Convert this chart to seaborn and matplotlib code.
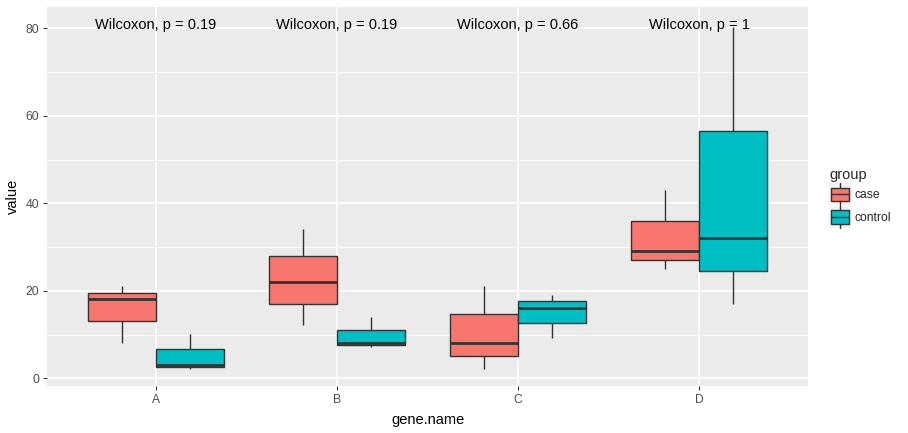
import pandas as pd
import matplotlib
matplotlib.use('Agg')
import matplotlib.pyplot as plt
import seaborn as sns
from matplotlib.legend_handler import HandlerBase
from matplotlib.patches import Rectangle
from matplotlib.lines import Line2D
from matplotlib.ticker import MultipleLocator

# five-number summaries (min, q1, median, q3, max)
genes = ['A', 'B', 'C', 'D']
groups = ['case', 'control']
case_values = {
    'A': [8.1, 13.0, 18.2, 19.4, 21.1],
    'B': [12.3, 16.9, 22.1, 27.9, 34.1],
    'C': [2.2, 5.0, 8.1, 14.6, 21.1],
    'D': [25.1, 27.0, 29.2, 35.9, 43.0],
}
control_values = {
    'A': [2.2, 2.5, 3.0, 6.6, 10.1],
    'B': [7.2, 7.6, 8.1, 11.0, 14.0],
    'C': [9.3, 12.6, 16.1, 17.6, 19.0],
    'D': [17.1, 24.5, 32.1, 56.5, 80.4],
}
p_labels = ['Wilcoxon, p = 0.19', 'Wilcoxon, p = 0.19', 'Wilcoxon, p = 0.66', 'Wilcoxon, p = 1']
label_y = 80.7

colors = {'case': '#F8766D', 'control': '#00BFC4'}


def build_frame():
    rows = []
    for g in genes:
        for v in case_values[g]:
            rows.append({'gene.name': g, 'group': 'case', 'value': v})
        for v in control_values[g]:
            rows.append({'gene.name': g, 'group': 'control', 'value': v})
    return pd.DataFrame(rows)


class BoxKey(HandlerBase):
    # ggplot style legend key: grey square with a tiny boxplot inside
    def create_artists(self, legend, orig_handle, xdescent, ydescent, width, height, fontsize, trans):
        fc = orig_handle.get_facecolor()
        bg = Rectangle((-xdescent, -ydescent), width, height, facecolor='#F2F2F2',
                       edgecolor='none', transform=trans)
        bx0 = -xdescent + width * 0.1
        bw = width * 0.8
        by0 = -ydescent + height * 0.2
        bh = height * 0.6
        box = Rectangle((bx0, by0), bw, bh, facecolor=fc, edgecolor='#333333',
                        linewidth=1.0, transform=trans)
        cx = -xdescent + width / 2
        cy = -ydescent + height / 2
        med = Line2D([bx0, bx0 + bw], [cy, cy], color='#333333', lw=1.0, transform=trans)
        w1 = Line2D([cx, cx], [-ydescent, by0], color='#333333', lw=1.0, transform=trans)
        w2 = Line2D([cx, cx], [by0 + bh, -ydescent + height], color='#333333', lw=1.0, transform=trans)
        return [bg, box, med, w1, w2]


def main():
    df = build_frame()

    sns.set_theme(style='darkgrid')
    plt.rcParams['font.family'] = ['Liberation Sans', 'DejaVu Sans']

    fig = plt.figure(figsize=(9.08, 4.33), dpi=100)
    ax = fig.add_axes([47 / 908, 1 - 386 / 433, (808 - 47) / 908, (386 - 7) / 433])
    ax.set_facecolor('#EBEBEB')

    sns.boxplot(data=df, x='gene.name', y='value', hue='group', order=genes,
                hue_order=groups, palette=colors, width=0.75, gap=0, saturation=1,
                linecolor='#333333', linewidth=1.0, showcaps=False, whis=10,
                medianprops={'linewidth': 2.0}, ax=ax, legend=False)

    for i, lab in enumerate(p_labels):
        ax.text(i, label_y, lab, ha='center', va='center', fontsize=10.5, color='black')

    ax.set_xlim(-0.6, 3.6)
    ax.set_ylim(-1.76, 84.9)
    ax.yaxis.set_major_locator(MultipleLocator(20))
    ax.yaxis.set_minor_locator(MultipleLocator(10))
    ax.grid(which='major', color='white', linewidth=1.1)
    ax.grid(which='minor', axis='y', color='white', linewidth=0.55)
    ax.set_axisbelow(True)
    for s in ax.spines.values():
        s.set_visible(False)
    ax.tick_params(axis='both', which='major', length=2.9, width=0.8, color='#333333',
                   labelcolor='#4D4D4D', labelsize=8.7, pad=2.5, left=True, bottom=True)
    ax.tick_params(axis='x', which='major', pad=3.2)
    ax.tick_params(axis='y', which='minor', length=0)

    ax.set_xlabel('gene.name', fontsize=10.5, color='black', labelpad=5)
    ax.set_ylabel('value', fontsize=10.5, color='black', labelpad=4.5)

    handles = [Rectangle((0, 0), 1, 1, facecolor=colors[g]) for g in groups]
    fs = 8.7
    fig.legend(handles, groups, title='group', loc='upper left',
               bbox_to_anchor=(829 / 908, 1 - 168 / 433), frameon=False,
               handler_map={Rectangle: BoxKey()}, fontsize=fs,
               title_fontsize=10.5, handlelength=1.8, handleheight=2.39,
               labelspacing=0.1, handletextpad=0.3, borderpad=0,
               borderaxespad=0, alignment='left')

    fig.savefig('out.png', dpi=100)


if __name__ == '__main__':
    main()
